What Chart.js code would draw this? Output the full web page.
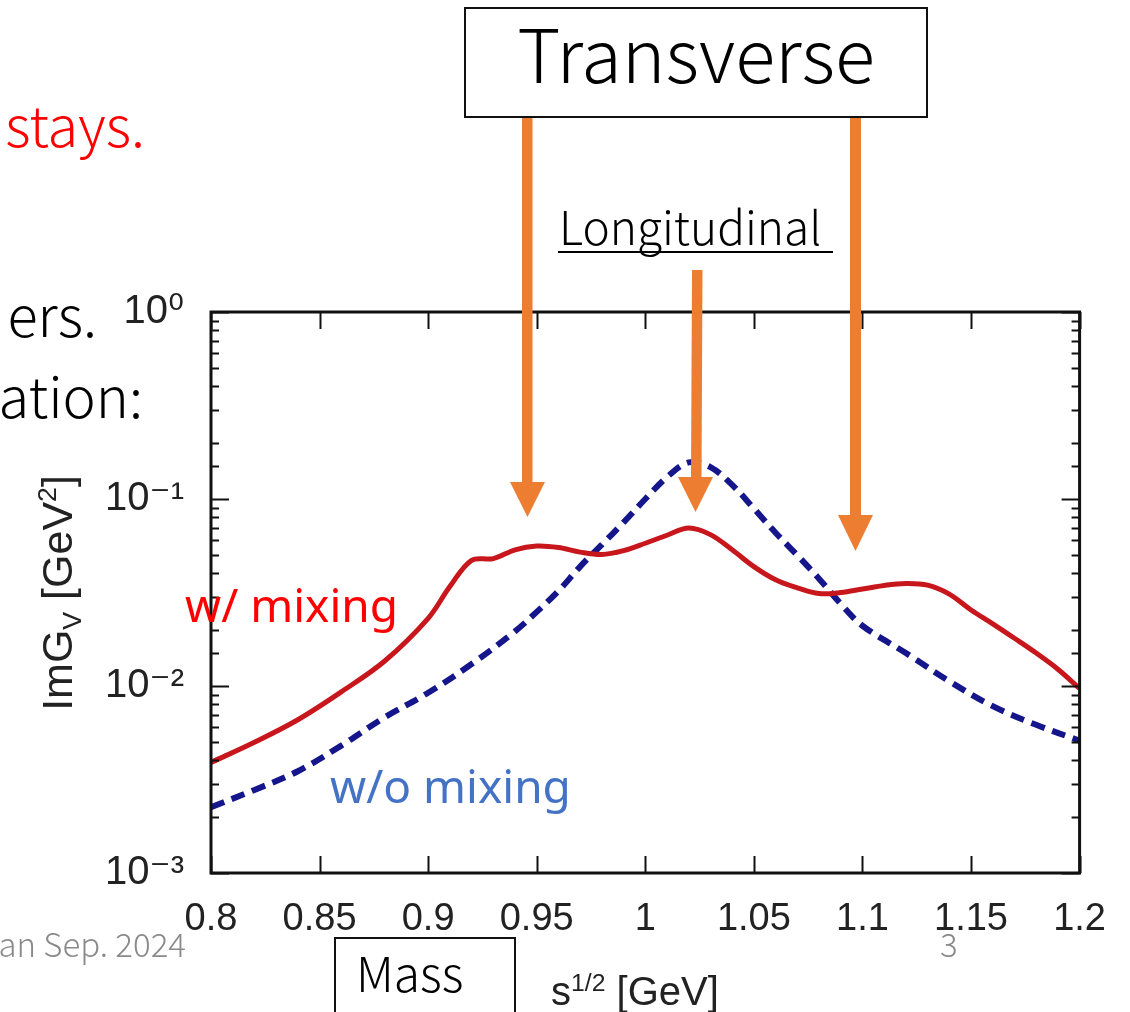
<!DOCTYPE html>
<html>
<head>
<meta charset="utf-8">
<script src="https://cdn.jsdelivr.net/npm/chart.js@4.4.1/dist/chart.umd.min.js"></script>
<style>
  body { margin: 0; background: #fff; }
  #page { position: relative; width: 1130px; height: 1012px; overflow: hidden; background: #fff; }
  #massChart { position: absolute; left: 0; top: 0; }
  #arrows { position: absolute; left: 0; top: 0; }
  .t { position: absolute; white-space: nowrap; line-height: 1; }
  .jp { font-family: "Noto Sans CJK JP", "Noto Sans", sans-serif; font-weight: 300; }
  .latin { font-family: "Noto Sans", "Open Sans", sans-serif; }
  .arial { font-family: "Liberation Sans", Arial, sans-serif; }
  .box { position: absolute; border: 2px solid #111; box-sizing: border-box; background: #fff; }
  sub, sup { font-size: 0.62em; line-height: 0; }
</style>
</head>
<body>
<div id="page">
  <canvas id="massChart" width="1130" height="1012"></canvas>

  <svg id="arrows" width="1130" height="1012">
    <g fill="#ED7D31">
      <rect x="522" y="117" width="10.5" height="366"></rect>
      <polygon points="510,482 545,482 527.5,517"></polygon>
      <polygon points="692,270 702.5,270 701.5,478 691,478"></polygon>
      <polygon points="678,477 713,477 695.5,512"></polygon>
      <rect x="850" y="117" width="11" height="399"></rect>
      <polygon points="838,515 873,515 855.5,551"></polygon>
    </g>
  </svg>

  <div class="t jp" style="right:985px; top:95px; font-size:56px; color:#ff0000;">stays.</div>
  <div class="t jp" style="right:1033px; top:285px; font-size:56px; color:#000;">ers.</div>
  <div class="t jp" style="right:987px; top:366px; font-size:56px; color:#000;">ation:</div>

  <div class="box" style="left:464px; top:7px; width:464px; height:111px;"></div>
  <div class="t jp" style="left:464px; width:464px; text-align:center; top:14px; font-size:74px; color:#000;">Transverse</div>

  <div class="t jp" style="left:559px; top:202px; font-size:46px; color:#000;">Longitudinal</div>
  <div style="position:absolute; left:558px; top:251px; width:275px; height:2px; background:#000;"></div>

  <div class="t latin" style="left:185px; top:581px; font-size:46px; color:#ff0000;">w/ mixing</div>
  <div class="t latin" style="left:330px; top:762px; font-size:46px; color:#4472C4;">w/o mixing</div>

  <div class="t arial" style="left:57px; top:593px; font-size:43px; color:#222; transform:translate(-50%,-50%) rotate(-90deg);">ImG<sub>V</sub> [GeV<sup>2</sup>]</div>

  <div class="box" style="left:334px; top:937px; width:182px; height:100px;"></div>
  <div class="t jp" style="left:356px; top:947px; font-size:48px; color:#000;">Mass</div>
  <div class="t arial" style="left:551px; top:971px; font-size:40px; color:#222;">s<sup>1/2</sup> [GeV]</div>

  <div class="t jp" style="right:944px; top:927px; font-size:33px; color:#8a8a8a;">an Sep. 2024</div>
  <div class="t jp" style="left:940px; top:927px; font-size:33px; color:#8a8a8a;">3</div>
</div>

<script>
// s^1/2 [GeV] and ImG_V [GeV^2]
const withMixingMass = [
  0.80, 0.82, 0.84, 0.86, 0.88, 0.90, 0.91, 0.92, 0.93, 0.94, 0.95, 0.96, 0.97, 0.98, 0.99,
  1.00, 1.01, 1.02, 1.03, 1.04, 1.05, 1.06, 1.07, 1.08, 1.09, 1.10, 1.11, 1.12, 1.13, 1.14,
  1.15, 1.16, 1.17, 1.18, 1.19, 1.20
];
const withMixingValue = [
  0.0039, 0.0050, 0.0066, 0.0093, 0.0136, 0.0230, 0.0340, 0.0470, 0.0480, 0.0535, 0.0560, 0.0550, 0.0520, 0.0505, 0.0530,
  0.0580, 0.0640, 0.0700, 0.0645, 0.0535, 0.0435, 0.0370, 0.0335, 0.0312, 0.0316, 0.0330, 0.0345, 0.0353, 0.0346, 0.0310,
  0.0255, 0.0215, 0.0180, 0.0150, 0.0123, 0.0097
];

const withoutMixingMass = [
  0.80, 0.82, 0.84, 0.86, 0.88, 0.90, 0.92, 0.94, 0.95, 0.96, 0.97, 0.98, 0.99, 1.00, 1.01,
  1.02, 1.03, 1.04, 1.05, 1.06, 1.07, 1.08, 1.09, 1.10, 1.12, 1.14, 1.16, 1.18, 1.20
];
const withoutMixingValue = [
  0.00225, 0.00278, 0.0035, 0.0048, 0.0068, 0.0092, 0.0131, 0.0196, 0.0249, 0.0322, 0.0435, 0.057, 0.075, 0.100, 0.131,
  0.157, 0.148, 0.119, 0.089, 0.066, 0.050, 0.0375, 0.0275, 0.021, 0.0150, 0.0106, 0.0078, 0.0062, 0.0051
];

const xTickLabels = ['0.8', '0.85', '0.9', '0.95', '1', '1.05', '1.1', '1.15', '1.2'];
const yTickLabels = { '-3': '10⁻³', '-2': '10⁻²', '-1': '10⁻¹', '0': '10⁰' };

function toPoints(xs, ys) {
  return xs.map((x, i) => ({ x: x, y: ys[i] }));
}

function isDecade(v) {
  const l = Math.log10(v);
  return Math.abs(l - Math.round(l)) < 1e-6;
}

// frame + inward tick marks on all four sides
const framePlugin = {
  id: 'frame',
  afterDatasetsDraw(chart) {
    const { ctx, chartArea: a, scales } = chart;
    ctx.save();
    ctx.strokeStyle = '#111';
    ctx.lineWidth = 2;
    scales.x.ticks.forEach(t => {
      const px = Math.round(scales.x.getPixelForValue(t.value)) + 0.5;
      ctx.beginPath();
      ctx.moveTo(px, a.bottom); ctx.lineTo(px, a.bottom - 17);
      ctx.moveTo(px, a.top); ctx.lineTo(px, a.top + 17);
      ctx.stroke();
    });
    scales.y.ticks.forEach(t => {
      const py = Math.round(scales.y.getPixelForValue(t.value)) + 0.5;
      const len = isDecade(t.value) ? 18 : 8;
      ctx.beginPath();
      ctx.moveTo(a.left, py); ctx.lineTo(a.left + len, py);
      ctx.moveTo(a.right, py); ctx.lineTo(a.right - len, py);
      ctx.stroke();
    });
    ctx.lineWidth = 3;
    ctx.strokeRect(a.left, a.top, a.right - a.left, a.bottom - a.top);
    ctx.restore();
  }
};

const ctx = document.getElementById('massChart').getContext('2d');

const massChart = new Chart(ctx, {
  type: 'line',
  data: {
    datasets: [
      {
        label: 'w/ mixing',
        data: toPoints(withMixingMass, withMixingValue),
        borderColor: '#C8161D',
        borderWidth: 5,
        pointRadius: 0,
        fill: false,
        tension: 0.35
      },
      {
        label: 'w/o mixing',
        data: toPoints(withoutMixingMass, withoutMixingValue),
        borderColor: '#16168C',
        borderWidth: 6,
        borderDash: [14, 8],
        pointRadius: 0,
        fill: false,
        tension: 0.35
      }
    ]
  },
  options: {
    responsive: false,
    animation: false,
    devicePixelRatio: 1,
    layout: {
      padding: { left: 0, top: 312, right: 45, bottom: 0 }
    },
    scales: {
      x: {
        type: 'linear',
        min: 0.8,
        max: 1.2,
        grid: { display: false, drawTicks: false },
        border: { display: false },
        ticks: {
          stepSize: 0.05,
          padding: 24,
          color: '#222',
          font: { family: '"Liberation Sans", Arial, sans-serif', size: 38 },
          maxRotation: 0,
          autoSkip: false,
          callback: (v) => xTickLabels[Math.round((v - 0.8) / 0.05)]
        },
        afterFit: (s) => { s.height = 139; }
      },
      y: {
        type: 'logarithmic',
        min: 0.001,
        max: 1,
        grid: { display: false, drawTicks: false },
        border: { display: false },
        ticks: {
          padding: 27,
          color: '#222',
          autoSkip: false,
          font: { family: '"Liberation Sans", "DejaVu Sans", Arial, sans-serif', size: 40 },
          callback: (v) => isDecade(v) ? yTickLabels[String(Math.round(Math.log10(v)))] : ''
        },
        afterFit: (s) => { s.width = 211; }
      }
    },
    plugins: {
      legend: { display: false },
      tooltip: { enabled: false }
    }
  },
  plugins: [framePlugin]
});
</script>
</body>
</html>
